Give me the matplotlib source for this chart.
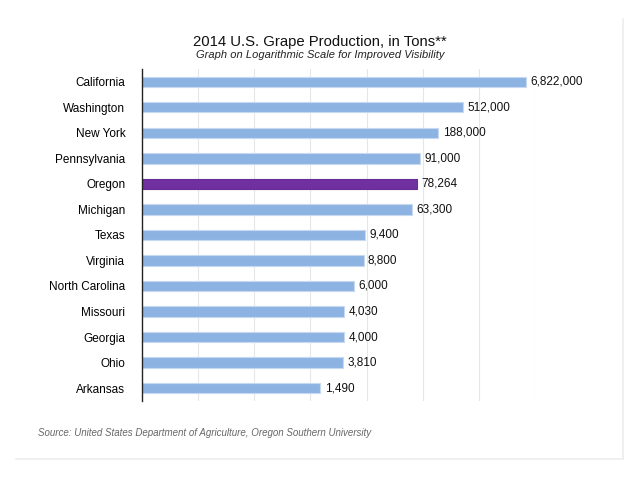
import matplotlib.pyplot as plt

states = ["California", "Washington", "New York", "Pennsylvania", "Oregon",
          "Michigan", "Texas", "Virginia", "North Carolina", "Missouri",
          "Georgia", "Ohio", "Arkansas"]
tons = [6822000, 512000, 188000, 91000, 78264, 63300, 9400, 8800, 6000,
        4030, 4000, 3810, 1490]
highlight = "Oregon"

plt.rcParams["font.family"] = ["Liberation Sans", "DejaVu Sans"]

fig = plt.figure(figsize=(6.4, 4.8), dpi=100)
ax = fig.add_axes([0.222, 0.165, 0.614, 0.691])

colors = ["#7030A0" if s == highlight else "#8DB3E2" for s in states]
edges = ["#6A2A9A" if s == highlight else "#C6D9F1" for s in states]
ypos = list(range(len(states)))
ax.barh(ypos, tons, height=0.4, color=colors, edgecolor=edges, linewidth=0.8,
        left=1, zorder=3)

for y, v in zip(ypos, tons):
    ax.text(v * 1.2, y, f"{v:,}", va="center", ha="left", fontsize=8.5,
            color="#111111")

ax.set_xscale("log")
ax.set_xlim(1, 1e7)
ax.set_ylim(len(states) - 0.5, -0.5)
ax.set_yticks(ypos)
ax.set_yticklabels(states, fontsize=8.5)
ax.tick_params(axis="y", length=0, pad=12)
ax.tick_params(axis="x", which="both", length=0, labelbottom=False)
ax.minorticks_off()
ax.set_xticks([10 ** k for k in range(1, 8)])
ax.grid(axis="x", color="#E6E6E6", linewidth=0.8, zorder=0)
for side in ["top", "right", "bottom"]:
    ax.spines[side].set_visible(False)
ax.spines["left"].set_color("#222222")
ax.spines["left"].set_linewidth(1.0)
ax.spines["left"].set_zorder(4)

fig.text(0.5, 0.905, "2014 U.S. Grape Production, in Tons**", ha="center",
         fontsize=10.7, color="#111111")
fig.text(0.5, 0.88, "Graph on Logarithmic Scale for Improved Visibility",
         ha="center", fontsize=8, style="italic", color="#222222")
fig.text(0.06, 0.092,
         "Source: United States Department of Agriculture, Oregon Southern University",
         fontsize=7, style="italic", color="#666666")

# faint panel edge on the right and bottom
fig.add_artist(plt.Line2D([0.974, 0.974], [0.044, 0.96], color="#EEEEEE",
                          linewidth=1.2, transform=fig.transFigure))
fig.add_artist(plt.Line2D([0.025, 0.974], [0.044, 0.044], color="#EEEEEE",
                          linewidth=1.2, transform=fig.transFigure))

fig.savefig("out.png", dpi=100)
